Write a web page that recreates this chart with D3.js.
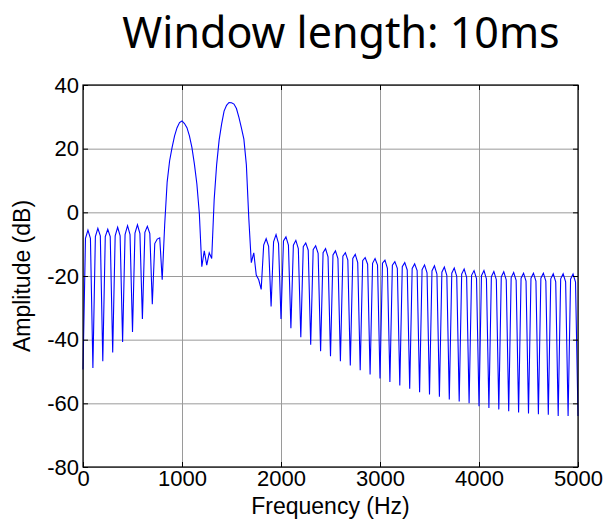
<!DOCTYPE html>
<html>
<head>
<meta charset="utf-8">
<script src="https://cdn.jsdelivr.net/npm/d3@7"></script>
<style>
  body { margin: 0; background: #fff; }
  .tick text { font-family: "Liberation Sans", Arial, sans-serif; font-size: 22px; fill: #000; }
  .grid line { stroke: #9a9a9a; stroke-width: 1; }
  .grid path { display: none; }
</style>
</head>
<body>
<div id="chart"></div>
<script>
const FREQ_STEP = 25

const amplitude = [
  -49.4,
  -8.2, -5.6, -8.2, -48.9,
  -7.6, -5.0, -7.4, -46.8,
  -7.6, -5.3, -7.6, -44.0,
  -7.4, -4.7, -7.4, -40.7,
  -7.0, -4.2, -7.0, -37.6,
  -6.5, -3.9, -6.7, -33.5,
  -6.3, -4.4, -6.7, -28.9,
  -9.8, -8.4, -8.0, -21.2,
  // first main lobe
  -4.0, 9.5, 16.2, 20.4,
  24.0, 26.6, 28.2, 28.7,
  27.9, 26.6, 24.0, 20.4,
  15.2, 9.0, -0.3, -17.1,
  -12.1, -16.6, -12.7, -14.5,
  // second main lobe
  4.0, 15.0, 22.7, 27.7,
  31.8, 33.6, 34.5, 34.4,
  34.0, 32.6, 29.8, 26.5,
  23.0, 15.0, -2.0, -15.8,
  -12.7, -19.7, -21.2, -24.2,
  // side lobes 1800..5000
  -10.3, -8.3, -10.7, -29.6,
  -9.3, -7.0, -9.8, -33.5,
  -9.0, -7.7, -10.3, -36.4,
  -10.3, -8.8, -11.4, -39.2,
  -10.8, -9.6, -11.9, -41.6,
  -11.7, -10.5, -12.9, -43.6,
  -12.7, -11.4, -14.0, -45.2,
  -13.4, -12.1, -14.5, -46.8,
  -13.8, -12.7, -15.0, -48.1,
  -14.5, -13.2, -15.8, -49.6,
  -15.2, -14.2, -16.3, -50.9,
  -16.0, -14.5, -16.6, -52.2,
  -16.0, -15.0, -17.6, -53.3,
  -16.6, -15.5, -17.6, -54.4,
  -17.1, -15.8, -18.1, -55.4,
  -17.6, -16.2, -18.3, -56.5,
  -18.0, -16.5, -19.0, -57.2,
  -18.4, -16.8, -19.4, -57.9,
  -18.8, -17.2, -19.8, -58.8,
  -19.1, -17.5, -20.1, -59.4,
  -19.4, -17.8, -20.4, -60.0,
  -19.8, -18.3, -20.8, -60.9,
  -19.9, -18.3, -20.9, -61.5,
  -20.2, -18.6, -21.1, -61.9,
  -20.3, -18.7, -21.2, -62.5,
  -20.5, -18.9, -21.4, -62.9,
  -20.7, -19.1, -21.6, -63.2,
  -20.7, -19.1, -21.6, -63.4,
  -20.7, -19.1, -21.6, -63.6,
  -20.9, -19.3, -21.8, -64.0,
  -20.9, -19.3, -21.8, -64.0,
  -21.0, -19.4, -21.9, -64.0
]

const xTicks = [0, 1000, 2000, 3000, 4000, 5000]
const yTicks = [-80, -60, -40, -20, 0, 20, 40]

const titleText = "Window length: 10ms"
const xLabelText = "Frequency (Hz)"
const yLabelText = "Amplitude (dB)"

const WIDTH_ALL = 608, HEIGHT_ALL = 527
const MARGIN = { LEFT: 83, RIGHT: 30, TOP: 85, BOTTOM: 60 }
const WIDTH = WIDTH_ALL - MARGIN.LEFT - MARGIN.RIGHT
const HEIGHT = HEIGHT_ALL - MARGIN.TOP - MARGIN.BOTTOM

const svg = d3.select("#chart").append("svg")
  .attr("width", WIDTH_ALL)
  .attr("height", HEIGHT_ALL)

const g = svg.append("g")
  .attr("transform", `translate(${MARGIN.LEFT}, ${MARGIN.TOP})`)

const x = d3.scaleLinear().domain([0, 5000]).range([0, WIDTH])
const y = d3.scaleLinear().domain([-80, 40]).range([HEIGHT, 0])

// plain labels, no thousands comma, ascii minus
const plain = d => String(d)

// grid
g.append("g")
  .attr("class", "grid")
  .attr("transform", `translate(0, ${HEIGHT})`)
  .call(d3.axisBottom(x).tickValues(xTicks).tickSize(-HEIGHT).tickFormat(""))
g.append("g")
  .attr("class", "grid")
  .call(d3.axisLeft(y).tickValues(yTicks).tickSize(-WIDTH).tickFormat(""))

// spectrum line
const data = amplitude.map((a, i) => ({ f: i * FREQ_STEP, a: a }))
const line = d3.line().x(d => x(d.f)).y(d => y(d.a))
g.append("path")
  .datum(data)
  .attr("fill", "none")
  .attr("stroke", "#0000ff")
  .attr("stroke-width", 1.1)
  .attr("d", line)

// axes, ticks pointing inwards like matlab
g.append("g")
  .attr("transform", `translate(0, ${HEIGHT})`)
  .call(d3.axisBottom(x).tickValues(xTicks).tickFormat(plain).tickSizeInner(-5).tickSizeOuter(0).tickPadding(3))
  .call(a => a.select(".domain").remove())
g.append("g")
  .call(d3.axisLeft(y).tickValues(yTicks).tickFormat(plain).tickSizeInner(-5).tickSizeOuter(0).tickPadding(4))
  .call(a => a.select(".domain").remove())
g.append("g")
  .call(d3.axisTop(x).tickValues(xTicks).tickSizeInner(-5).tickSizeOuter(0).tickFormat(""))
  .call(a => a.select(".domain").remove())
g.append("g")
  .attr("transform", `translate(${WIDTH}, 0)`)
  .call(d3.axisRight(y).tickValues(yTicks).tickSizeInner(-5).tickSizeOuter(0).tickFormat(""))
  .call(a => a.select(".domain").remove())

g.selectAll(".tick line").attr("stroke", "#000")

g.append("rect")
  .attr("width", WIDTH)
  .attr("height", HEIGHT)
  .attr("fill", "none")
  .attr("stroke", "#000")
  .attr("stroke-width", 1.2)

// labels
svg.append("text")
  .attr("x", 341)
  .attr("y", 48)
  .attr("text-anchor", "middle")
  .attr("font-family", "Noto Sans, sans-serif")
  .attr("font-size", "43px")
  .text(titleText)

svg.append("text")
  .attr("x", MARGIN.LEFT + WIDTH / 2)
  .attr("y", 514)
  .attr("text-anchor", "middle")
  .attr("font-family", "Liberation Sans, Arial, sans-serif")
  .attr("font-size", "23px")
  .text(xLabelText)

svg.append("text")
  .attr("transform", `translate(30, ${MARGIN.TOP + HEIGHT / 2}) rotate(-90)`)
  .attr("text-anchor", "middle")
  .attr("font-family", "Liberation Sans, Arial, sans-serif")
  .attr("font-size", "23px")
  .text(yLabelText)
</script>
</body>
</html>
